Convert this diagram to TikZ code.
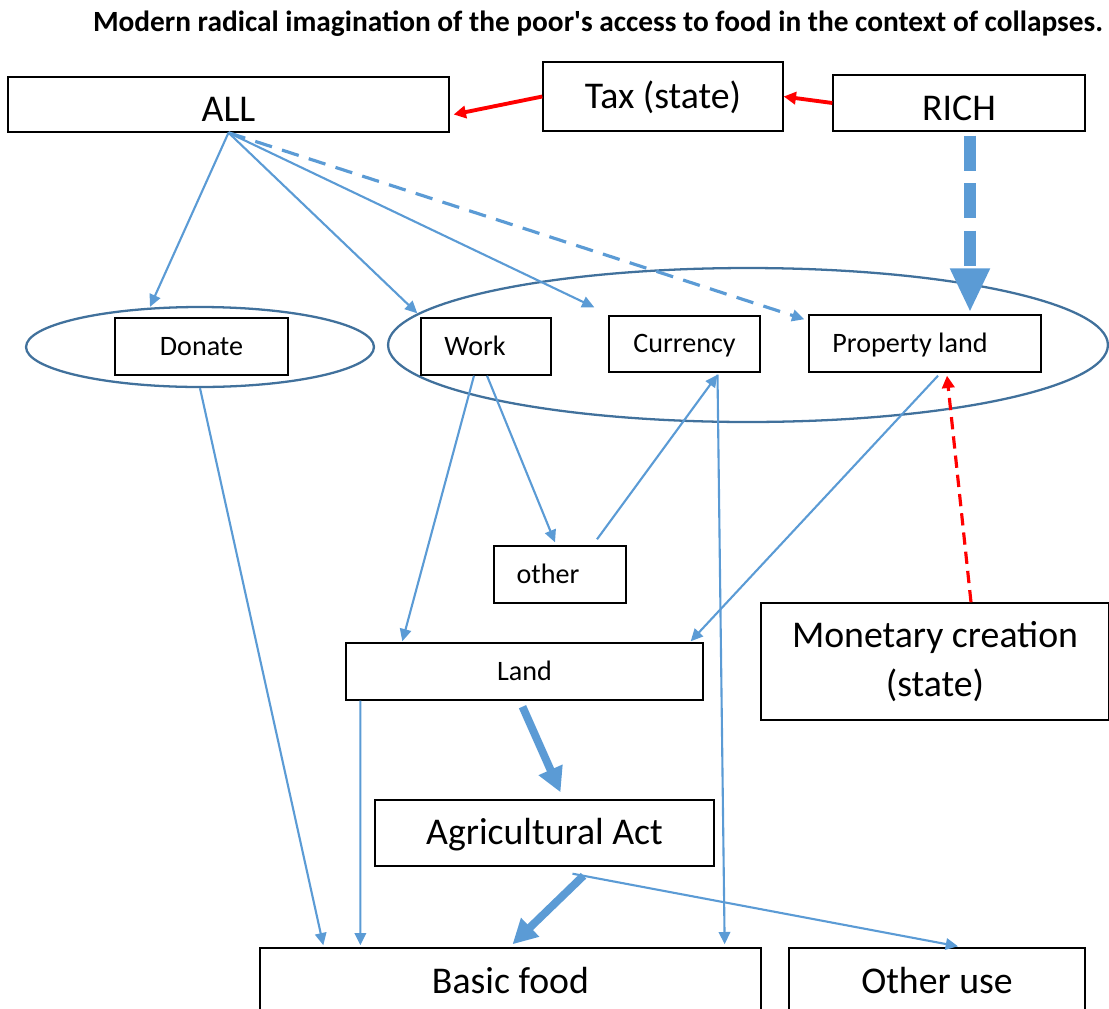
\documentclass[tikz,border=0pt]{standalone}
\usepackage{fontspec}
\setmainfont{Carlito}
\usetikzlibrary{calc,arrows.meta,shapes.geometric}
\definecolor{flow}{HTML}{5B9BD5}
\definecolor{rim}{HTML}{41719C}
\definecolor{hot}{HTML}{FF0000}
\tikzset{
  box/.style={draw=black, line width=0.8pt, inner sep=0pt, align=center},
  small/.style={font=\fontsize{16}{19}\selectfont, text height=12pt, text depth=1.8pt},
  big/.style={font=\fontsize{21.5}{27.8}\selectfont, text height=16pt, text depth=2.4pt},
  low/.style={text height=22pt},
  bigml/.style={font=\fontsize{21.5}{27.8}\selectfont},
  grp/.style={ellipse, draw=rim, line width=1.3pt, inner sep=0pt},
  ln/.style={draw=flow, line width=1.2pt, -{Triangle[length=7pt,width=6.5pt]}},
  lnd/.style={ln, line width=1.8pt, dash pattern=on 10pt off 6pt},
  fat/.style={draw=flow, line width=4.5pt, -{Triangle[length=14pt,width=14pt]}},
  fatd/.style={draw=flow, line width=7pt, dash pattern=on 20pt off 7pt,
    -{Triangle[length=25pt,width=21pt]}},
  tx/.style={draw=hot, line width=2.2pt, -{Triangle[length=7pt,width=7pt]}},
  txd/.style={tx, line width=1.8pt, dash pattern=on 7pt off 4pt},
}
\begin{document}
\begin{tikzpicture}[x=0.02cm, y=-0.02cm]
  \useasboundingbox (0,0) rectangle (1109,1008);
  \node[font=\bfseries\fontsize{16.7}{20}\selectfont] (title) at (598,24)
    {Modern radical imagination of the poor\textquotesingle s access to food in the context of collapses.};
  % top row
  \node[box, big, low, minimum width=8.82cm, minimum height=1.1cm] (all) at (228.5,104.5) {ALL};
  \node[box, big, minimum width=4.8cm, minimum height=1.38cm] (tax) at (663,96.5) {Tax (state)};
  \node[box, big, low, minimum width=5.04cm, minimum height=1.12cm] (rich) at (959,103) {RICH};
  % groups
  \node[grp, minimum width=6.96cm, minimum height=1.6cm] (donel) at (200,347) {};
  \node[grp, minimum width=14.4cm, minimum height=3.08cm] (bigel) at (748,345) {};
  \node[box, small, minimum width=3.46cm, minimum height=1.14cm] (donate) at (201.5,346.5) {Donate};
  \node[box, small, minimum width=2.6cm, minimum height=1.14cm] (work) at (486,346.5) {Work\hspace*{0.44cm}};
  \node[box, small, minimum width=3.02cm, minimum height=1.12cm] (currency) at (684.5,344) {Currency};
  \node[box, small, minimum width=4.64cm, minimum height=1.14cm] (property) at (925,343.5) {Property land\hspace*{0.6cm}};
  % middle
  \node[box, small, minimum width=2.64cm, minimum height=1.14cm] (other) at (560,574.5) {other\hspace*{0.48cm}};
  \node[box, small, minimum width=7.14cm, minimum height=1.14cm] (land) at (524.5,671.5) {Land};
  \node[box, bigml, minimum width=6.96cm, minimum height=2.34cm] (monetary) at (935,661.5) {Monetary creation\\(state)};
  \node[box, big, minimum width=6.78cm, minimum height=1.32cm] (agri) at (544.5,833) {Agricultural Act};
  % bottom
  \node[box, big, minimum width=10.02cm, minimum height=1.36cm] (basic) at (510.5,982) {Basic food};
  \node[box, big, minimum width=5.92cm, minimum height=1.36cm] (otheruse) at (937,982) {Other use};

  \draw[tx] (tax.west) -- ($(all.east)+(4,10)$);
  \draw[tx] (rich.west) -- (tax.east);
  \draw[txd] ($(monetary.north)+(36,0)$) -- ($(property.south)+(22,3)$);
  \draw[fatd] ($(rich.south)+(11,4)$) -- ($(property.north)+(45,-2)$);

  \draw[ln] (all.south) -- ($(donel.north)+(-50,1)$);
  \draw[ln] (all.south) -- ($(work.north west)+(-3,-4)$);
  \draw[ln] (all.south) -- ($(currency.north west)+(-14,-8)$);
  \draw[lnd] (all.south) -- ($(property.north west)+(-4,5)$);

  \draw[ln] (donel.south) -- ($(basic.north west)+(64,-2)$);
  \draw[ln] ($(work.south)+(-12,0)$) -- ($(land.north west)+(57,-1)$);
  \draw[ln] ($(work.south)+(1,0)$) -- ($(other.north)+(-5,-3)$);
  \draw[ln] ($(other.north)+(37,-6)$) -- ($(currency.south)+(33,2)$);
  \draw[ln] ($(currency.south)+(33,2)$) -- ($(basic.north east)+(-37,-3)$);
  \draw[ln] ($(property.south)+(13,3)$) -- ($(land.north east)+(-13,-1)$);
  \draw[ln] ($(land.south west)+(15,0)$) -- ($(basic.north west)+(101,-2)$);

  \draw[fat] ($(land.south)+(-2,6)$) -- ($(agri.north)+(16,-7)$);
  \draw[fat] ($(agri.south)+(39,9)$) -- ($(basic.north)+(2,-3)$);
  \draw[ln] ($(agri.south)+(28,7)$) -- ($(otheruse.north)+(21,-1)$);
\end{tikzpicture}
\end{document}
